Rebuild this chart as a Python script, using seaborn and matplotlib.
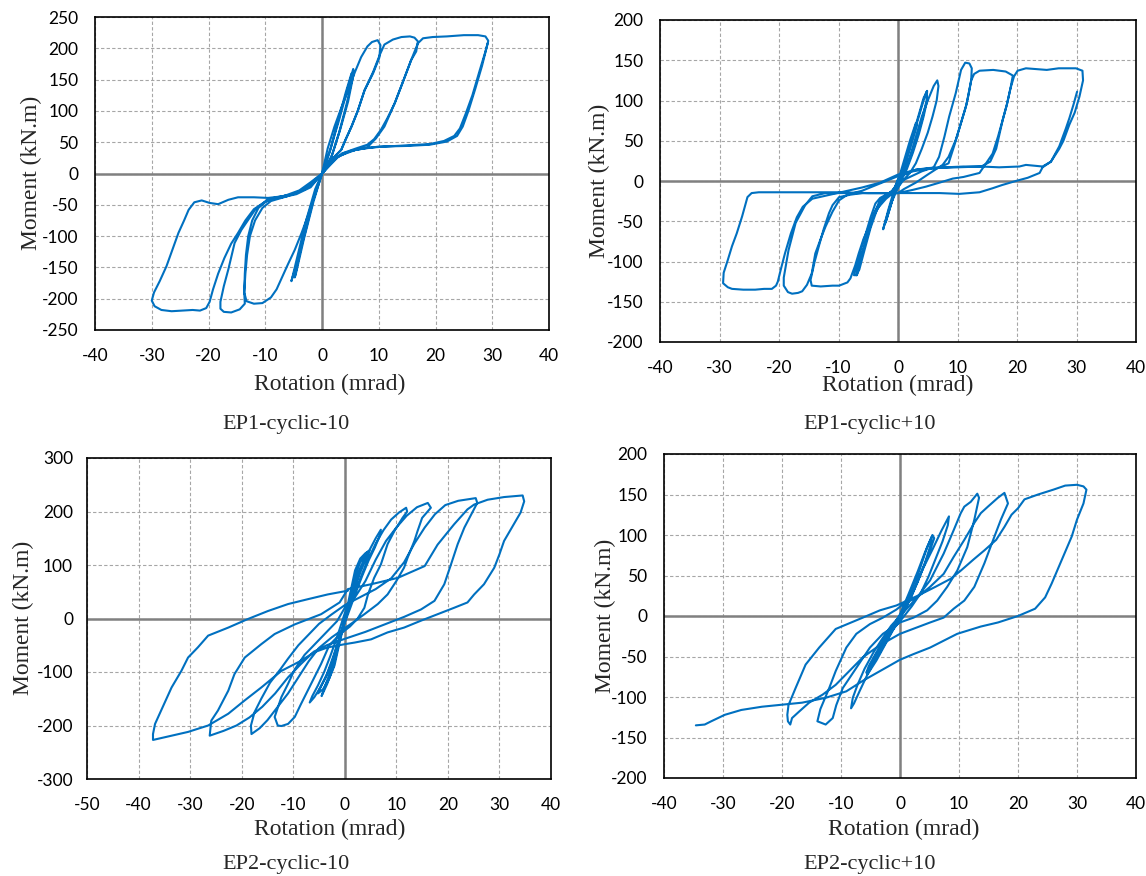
import matplotlib
matplotlib.use("Agg")
import matplotlib.pyplot as plt
import seaborn as sns
import pandas as pd
import numpy as np

sns.set_theme(style="white")
plt.rcParams["font.family"] = ["Lato", "DejaVu Sans"]
plt.rcParams["axes.unicode_minus"] = False

BLUE = "#0070C0"
W, H = 1146, 876

# (rotation mrad, moment kN.m), in loading order
ep1_minus = [
    (0, 0), (1.5, 40), (3, 85), (4.5, 135), (5.5, 167), (5.6, 160), (4.6, 115), (3.2, 70), (1.8, 30), (0, 0),
    (-1.5, -40), (-3, -95), (-4.3, -140), (-5.4, -172), (-5.2, -165), (-4, -120), (-2.8, -75), (-1.2, -25), (0, 0),
    (1.4, 35), (3, 90), (4.2, 130), (5.2, 160), (5.3, 150), (4.3, 110), (3, 65), (1.5, 22), (0, 0),
    (-1.5, -45), (-3.2, -105), (-4.6, -160), (-4.8, -166), (-4.2, -140), (-3, -90), (-1.5, -40), (0, 0),
    (1, 40), (2.2, 75), (3.4, 105), (4.6, 133), (5.8, 162), (6.9, 186), (8, 203), (8.8, 210), (9.8, 213),
    (10.3, 205), (10.1, 185), (9, 160), (7.5, 133), (6.3, 100), (5.2, 75), (4.2, 55), (3.4, 38), (2.2, 27), (1, 12), (0, 0),
    (-2, -22), (-4.5, -33), (-7, -38), (-9.5, -42), (-11.2, -55), (-12.3, -75), (-13, -100), (-13.4, -130),
    (-13.6, -160), (-13.7, -190), (-13.3, -204), (-12, -208), (-10.5, -207), (-9, -198), (-8, -185), (-7.2, -169),
    (-6, -145), (-4.8, -122), (-3.6, -95), (-2.5, -68), (-1.2, -33), (0, 0),
    (2, 24), (3.4, 38), (4.2, 55), (5.2, 75), (6.3, 100), (7.5, 133), (9, 162), (10.2, 190), (11, 206), (12.5, 214),
    (14, 218), (15.5, 219), (16.3, 217), (16.9, 211), (16.6, 195), (15.7, 181), (14.2, 145), (12.8, 112), (11.5, 88),
    (10.4, 70), (9.2, 55), (8, 46), (6, 40), (3.5, 32), (1.5, 16), (0, 0),
    (-2, -20), (-5, -33), (-8, -38), (-9.5, -41), (-11.8, -58), (-14.2, -90), (-15.4, -111), (-16.5, -153),
    (-17.3, -180), (-17.9, -205), (-17.9, -216), (-17.3, -221), (-16, -222), (-14.5, -217), (-13.6, -208),
    (-13.7, -190), (-13.5, -160), (-13.2, -130), (-12.7, -100), (-11.8, -75), (-10.5, -55), (-9, -44), (-6, -36),
    (-3, -25), (0, 0),
    (2, 22), (4, 33), (6, 38), (8, 42), (9.5, 56), (11, 75), (12.8, 112), (14.2, 145), (15.7, 181), (16.9, 208),
    (17.8, 216), (19.5, 218), (22, 219), (25, 221), (27.5, 221), (28.8, 219), (29.3, 212), (28.8, 195), (27.8, 165),
    (26.5, 125), (25.3, 95), (24.3, 72), (23.3, 60), (21.5, 52), (19, 47), (15, 45), (11, 43), (8, 41), (5, 36),
    (2.5, 25), (0, 0),
    (-2.5, -22), (-5, -33), (-7.5, -37), (-9.5, -39), (-12, -38), (-14.8, -38), (-16.5, -42), (-18.3, -49),
    (-19.8, -47), (-21.2, -43), (-22.5, -46), (-23.5, -58), (-24.3, -75), (-25.3, -95), (-26.3, -120), (-27.4, -148),
    (-28.6, -172), (-29.6, -190), (-30, -203), (-29.5, -212), (-28.3, -218), (-26.5, -220), (-24.7, -219),
    (-22.8, -218), (-21.5, -219), (-20.4, -215), (-19.8, -205), (-19.2, -185), (-18.3, -160), (-17.2, -135),
    (-16, -112), (-14.8, -95), (-13.5, -75), (-12, -57), (-10, -45), (-7, -37), (-4, -27), (-2, -14), (0, 0),
    (3, 28), (6, 38), (10, 43), (15, 44), (19, 46), (22, 51), (23.8, 60), (24.8, 75), (25.8, 100), (27, 135),
    (28.2, 172), (29.2, 208),
]

ep1_plus = [
    (0, 0), (1, 25), (2, 50), (3, 72), (3.2, 70), (2.4, 50), (1.6, 30), (0.8, 12), (0, 2),
    (-0.8, -15), (-1.6, -35), (-2.5, -60), (-2.3, -55), (-1.5, -35), (-0.7, -18), (0, -5),
    (0.5, 5), (1.5, 30), (2.5, 55), (3.5, 80), (4.3, 100), (4.8, 111), (4.9, 100), (4.3, 80), (3.5, 58), (2.5, 35),
    (1.5, 15), (0.5, 0), (-1, -25), (-2.1, -52), (-1.8, -45), (-0.8, -20), (0, -2),
    (1, 20), (2.2, 50), (3.4, 80), (4.3, 103), (4.9, 112), (4.8, 100), (4, 75), (3, 50), (2, 28), (1, 10), (0, -3),
    (-1, -13), (-2, -17), (-3, -21), (-3.8, -28), (-4.6, -45), (-5.4, -65), (-6.2, -85), (-6.9, -105), (-7.4, -117),
    (-6.9, -117), (-6.2, -95), (-5.2, -70), (-4.2, -45), (-3.2, -28), (-2, -18), (-1, -12),
    (0, -3), (1, 10), (2, 30), (3, 55), (4, 80), (5, 100), (6, 118), (6.6, 125), (6.8, 118), (6.5, 100), (5.8, 80),
    (5, 60), (4, 40), (3, 22), (2, 10), (1, 2), (0, -8), (-1, -14),
    (-2, -18), (-3, -24), (-4, -40), (-5, -65), (-6, -90), (-6.8, -112), (-7, -117), (-6.5, -110), (-5.6, -85),
    (-4.6, -58), (-3.5, -35), (-2.2, -20), (-1, -13),
    (0, -2), (2, 5), (4, 12), (6, 17), (6.9, 30), (7.8, 55), (8.6, 80), (9.7, 109), (10.6, 138), (11.3, 147),
    (12, 146), (12.4, 140), (12.3, 125), (11.8, 105), (11.4, 92), (10.5, 70), (9.7, 51), (8.5, 30), (7.5, 20),
    (5, 8), (3, -2), (1, -10), (0, -15),
    (-3, -15), (-6, -15), (-8, -17), (-9.9, -20), (-11, -30), (-11.6, -40), (-12.5, -60), (-13.3, -81), (-14, -100),
    (-14.7, -123), (-14.5, -130), (-13, -131), (-11, -130), (-9.9, -130), (-8.5, -126), (-8, -121), (-7.2, -105),
    (-6.6, -90), (-5.8, -72), (-4.9, -57), (-4, -42), (-3.2, -32), (-2, -22), (-1, -16),
    (0, 2), (1.5, 10), (3, 14), (5, 16), (7, 17), (8.5, 22), (9.5, 45), (10.5, 70), (11.5, 95), (12.3, 125),
    (12.8, 133), (13.7, 137), (16, 138), (18.1, 136), (19.3, 131), (18.9, 115), (18.3, 95), (17.6, 76), (16.8, 55),
    (15.9, 34), (14.8, 22), (13.7, 10), (11, 5), (9.2, 3), (7, -2), (4.7, -7), (2.5, -11), (0, -15),
    (-3, -15), (-6, -15), (-9, -15), (-12.2, -15), (-14.4, -19), (-15.6, -30), (-17.2, -52), (-18.4, -86),
    (-19.2, -120), (-19.2, -130), (-18.5, -138), (-17.8, -140), (-16.8, -139), (-16.1, -137), (-15.3, -129),
    (-14.5, -115), (-13.9, -90), (-13, -72), (-12.2, -57), (-11, -38), (-9.9, -24), (-8.5, -17), (-6, -12),
    (-4, -6), (-2, 0), (0, 6), (2.5, 12), (5, 15), (8, 17), (11, 18), (14, 18), (15.5, 24), (16.5, 40), (17.6, 76),
    (18.3, 95), (18.9, 115), (19.5, 130), (20.1, 137), (21.5, 140), (23.2, 139), (25, 138), (27, 140), (29.9, 140),
    (31, 137), (31.1, 125), (30.5, 105), (29.7, 85), (28.8, 70), (27.8, 50), (27.1, 40), (25.7, 24), (24.3, 17),
    (23.8, 10), (21.8, 4), (19.8, 0), (17.5, -5), (15.9, -9), (13.7, -14), (10.3, -16), (7, -15), (4.7, -15),
    (1, -15),
    (-5, -15), (-10, -14), (-15, -14), (-20, -14), (-23.4, -14), (-24.6, -15), (-25.3, -20), (-26.2, -44),
    (-27.1, -65), (-27.9, -81), (-28.6, -98), (-29.3, -114), (-29.4, -127), (-28.6, -132), (-27.9, -134),
    (-26, -135), (-24, -135), (-22.5, -134), (-21.2, -134), (-20.5, -130), (-20.2, -125), (-19.7, -110),
    (-19, -90), (-18, -65), (-17, -45), (-16, -32), (-14.4, -22), (-12, -18), (-9, -13),
    (-6, -8), (-3, -2), (0, 8), (3, 14), (6, 16), (10, 17), (14, 18), (17, 17), (20.4, 18), (21.5, 20), (23, 19),
    (24.3, 18), (25.7, 24), (27.1, 43), (28.2, 65), (28.8, 78), (29.5, 95), (30.1, 111),
]

ep2_minus = [
    (0, 0), (1, 45), (2, 90), (3, 112), (4, 122), (4.8, 127), (4.5, 118), (3.5, 98), (2.4, 72), (1.2, 35), (0, -5),
    (-1, -45), (-2, -88), (-3, -112), (-4.2, -132), (-5.2, -140), (-4.9, -132), (-3.8, -112), (-2.6, -85),
    (-1.3, -45), (0, -5),
    (1, 35), (2, 80), (3, 105), (4.2, 122), (4.5, 125), (4.1, 115), (3, 90), (1.8, 55), (0.5, 10),
    (-1, -40), (-2.2, -90), (-3.4, -122), (-4.5, -145), (-4.2, -136), (-3.2, -110), (-2, -75), (-0.8, -30), (0.2, 5),
    (1.2, 40), (2.4, 80), (3.5, 105), (4.8, 128), (6, 150), (7, 166), (6.8, 155), (5.8, 132), (4.6, 108),
    (3.4, 80), (2.2, 50), (1, 18), (0, -8),
    (-1, -35), (-2.2, -70), (-3.5, -105), (-4.8, -130), (-5.9, -147), (-6.8, -157), (-6.3, -145), (-5.2, -125),
    (-4, -100), (-2.8, -70), (-1.5, -35), (-0.5, -5),
    (0, 10), (1.5, 40), (3, 75), (4.5, 110), (6, 140), (7.5, 165), (9, 185), (10.5, 198), (11.9, 207), (12.1, 200),
    (11.2, 188), (9.6, 163), (8.3, 139), (7, 101), (5.7, 76), (4.5, 45), (3.8, 20), (2.5, 0), (1, -15), (-1, -30),
    (-3, -50), (-4.6, -85), (-5.9, -110), (-7.2, -135), (-8.5, -160), (-9.7, -184), (-11, -197), (-12.3, -201),
    (-13, -200), (-13.6, -184), (-12.3, -147), (-11, -122), (-9.7, -95), (-7.8, -68), (-5.5, -45), (-3.5, -25),
    (-1.5, -5), (0, 20),
    (2, 40), (4, 70), (6, 110), (8, 145), (10, 170), (12, 192), (14, 208), (16.1, 216), (16.7, 207), (15, 188),
    (14.1, 163), (13.5, 145), (12.2, 114), (11.5, 95), (10, 70), (8.3, 45), (6.4, 27), (3.8, 8), (1.5, -8),
    (0, -18), (-2.5, -35), (-5, -55), (-7, -80), (-9, -110), (-11, -140), (-13, -165), (-15, -190), (-16.5, -205),
    (-17.5, -212), (-18.1, -216), (-18.2, -200), (-17.5, -175), (-16.2, -150), (-14.5, -120), (-12.5, -95),
    (-11, -75), (-9, -50), (-7, -30), (-5, -10), (-2.5, 8), (0, 25),
    (3, 40), (6, 55), (9, 75), (11.5, 105), (13.5, 140), (15.5, 170), (17.5, 195), (19.5, 212), (22, 220),
    (25.4, 225), (25.7, 216), (24.5, 194), (23.2, 170), (21.9, 139), (20.6, 101), (19.3, 64), (17.4, 33),
    (14.8, 17), (11.5, 3), (8, -10), (4, -25), (0, -38), (-3.5, -50), (-6, -62), (-8.5, -85), (-11, -110),
    (-13.5, -140), (-16, -165), (-18.5, -185), (-21, -200), (-23.5, -210), (-26.2, -219), (-25.9, -191),
    (-24.6, -172), (-22.6, -135), (-21.4, -104), (-19.4, -73), (-16.2, -48), (-13.6, -29), (-9.7, -11),
    (-4.6, 8), (-1, 30), (0.6, 55),
    (5.1, 64), (10.3, 76), (15.5, 98), (18, 138), (21.2, 176), (23.8, 204), (25.1, 213), (27.7, 222), (30.9, 227),
    (34.5, 230), (34.8, 219), (34.1, 198), (33.5, 188), (32.3, 168), (30.9, 145), (30, 120), (29, 95), (27, 64),
    (25.1, 45), (23.8, 30), (21.2, 20), (18, 8), (14.8, -4), (11.5, -17), (8.3, -26), (5.1, -39), (1.9, -45),
    (0, -48), (-3.3, -54), (-5.9, -63), (-8.5, -79), (-12.3, -98), (-16.2, -129), (-19.4, -153), (-22.6, -178),
    (-26.5, -200), (-30.4, -212), (-34.9, -222), (-37.2, -227), (-37.2, -216), (-36.8, -197), (-35.9, -178),
    (-33.6, -129), (-31.7, -98), (-30.4, -73), (-28.5, -54), (-26.5, -32), (-22.6, -17), (-18.8, -1),
    (-14.9, 14), (-11, 27), (-7.2, 36), (-3.3, 45), (0.6, 52),
]

ep2_plus = [
    (0, 0), (1.5, 25), (3, 50), (4.6, 85), (5.4, 98), (5.2, 88), (4.2, 65), (3, 42), (1.5, 18), (0, -2),
    (-1.5, -20), (-3, -40), (-4.5, -58), (-5.7, -70), (-5.3, -62), (-4, -45), (-2.6, -28), (-1.2, -12), (0, 2),
    (1.5, 28), (3, 55), (4.2, 78), (5.5, 100), (5.8, 96), (4.8, 75), (3.5, 52), (2, 25), (0.5, 3),
    (-1, -15), (-2.5, -35), (-4, -55), (-5.5, -72), (-5, -60), (-3.5, -40), (-2, -22), (-0.5, -5),
    (1, 12), (2.5, 35), (4, 60), (5.5, 82), (7, 105), (8, 119), (8.3, 123), (8.1, 112), (7.2, 92), (6, 70),
    (4.8, 48), (3.5, 28), (2, 12), (0.5, -2), (-1, -15), (-2.5, -30), (-4, -50), (-5.5, -72), (-6.8, -92),
    (-7.8, -108), (-8.3, -114), (-8, -101), (-7.2, -85), (-6, -65), (-4.5, -45), (-3, -28), (-1.5, -12), (0, 0),
    (1.5, 12), (2.9, 23), (5.1, 44), (7.4, 77), (9.1, 106), (10.3, 127), (10.9, 135), (12, 141), (13.1, 151),
    (13.4, 146), (12.6, 119), (11.4, 85), (9.7, 56), (8, 36), (6.3, 19), (4.6, 7), (2.3, -2), (0, -8),
    (-2.9, -22), (-5.1, -39), (-7.4, -64), (-9.7, -89), (-10.8, -110), (-11.4, -126), (-12.6, -134), (-14, -130),
    (-13.5, -115), (-12, -89), (-10.9, -68), (-9.1, -39), (-7.4, -22), (-5.1, -10), (-2.9, -2), (-0.6, 8),
    (0.6, 15), (2.9, 23), (5.1, 36), (7.4, 52), (9.1, 73), (10.9, 94), (12.6, 115), (13.7, 127), (14.9, 135),
    (16.6, 146), (17.7, 152), (18.3, 139), (17.1, 119), (16, 98), (14.3, 65), (12.6, 36), (10.9, 19), (9.1, 9),
    (7.4, -2), (5.1, -8), (2.9, -14), (0, -22), (-1.7, -29), (-4, -39), (-6.3, -51), (-8.6, -68), (-10.9, -85),
    (-13.1, -97), (-15.4, -107), (-17.1, -118), (-18.3, -126), (-18.6, -134), (-19, -130), (-19.1, -122),
    (-18.9, -110), (-17.7, -89), (-16, -60), (-13.7, -39), (-10.9, -16), (-6.3, -2), (-3.4, 7), (-0.6, 13),
    (3, 25), (6, 36), (8.6, 46), (10.3, 56), (12.5, 70), (14.3, 81), (16.3, 94), (17.7, 110), (18.9, 125),
    (20, 133), (21.1, 144), (23.4, 150), (26, 156), (28, 161), (30, 162), (31.1, 160), (31.6, 156), (31.1, 139),
    (30, 119), (29.1, 98), (27.4, 69), (25.7, 40), (24.6, 23), (22.9, 9), (20, 0), (16.6, -8), (13.7, -13),
    (9.7, -22), (5.1, -39), (2.3, -47), (0, -54), (-3.4, -68), (-6.3, -80), (-9.1, -93), (-12.6, -101),
    (-16.6, -107), (-23.4, -112), (-26.9, -116), (-29.7, -122), (-32, -130), (-33.1, -134), (-34.6, -135),
]

captions = ["EP1-cyclic-10", "EP1-cyclic+10", "EP2-cyclic-10", "EP2-cyclic+10"]

# pixel layout: axes box (left, top, right, bottom), label anchors, y tick pad
panels = [
    dict(pts=ep1_minus, box=(95, 17, 549, 330), xr=(-40, 40, 10), yr=(-250, 250, 50),
         ylab=(31, 173), xlab=(330, 384), cap=(286, 425), ypad=12),
    dict(pts=ep1_plus, box=(660, 20, 1136, 342), xr=(-40, 40, 10), yr=(-200, 200, 50),
         ylab=(599, 181), xlab=(898, 385), cap=(870, 425), ypad=12),
    dict(pts=ep2_minus, box=(87, 458, 551, 779), xr=(-50, 40, 10), yr=(-300, 300, 100),
         ylab=(23, 618), xlab=(330, 829), cap=(286, 864), ypad=10),
    dict(pts=ep2_plus, box=(664, 454, 1136, 778), xr=(-40, 40, 10), yr=(-200, 200, 50),
         ylab=(605, 616), xlab=(904, 829), cap=(870, 864), ypad=12),
]

fig = plt.figure(figsize=(W / 100, H / 100), dpi=100)
fig.patch.set_facecolor("white")

serif = ["Liberation Serif", "DejaVu Serif"]

for p, cap in zip(panels, captions):
    l, t, r, b = p["box"]
    ax = fig.add_axes([l / W, 1 - b / H, (r - l) / W, (b - t) / H])
    df = pd.DataFrame(p["pts"], columns=["rot", "mom"])
    sns.lineplot(data=df, x="rot", y="mom", sort=False, estimator=None,
                 color=BLUE, lw=1.5, ax=ax, zorder=3)
    x0, x1, xs = p["xr"]
    y0, y1, ys = p["yr"]
    ax.set_xlim(x0, x1)
    ax.set_ylim(y0, y1)
    ax.set_xticks(np.arange(x0, x1 + 1, xs))
    ax.set_yticks(np.arange(y0, y1 + 1, ys))
    ax.grid(True, ls=(0, (3, 2)), color="#a6a6a6", lw=0.8, zorder=0)
    ax.axhline(0, color="#808080", lw=1.8, zorder=2)
    ax.axvline(0, color="#808080", lw=1.8, zorder=2)
    ax.tick_params(length=0, labelsize=12.5, labelcolor="black")
    ax.tick_params(axis="y", pad=p["ypad"])
    ax.tick_params(axis="x", pad=13)
    ax.set_xlabel("")
    ax.set_ylabel("")
    for s in ax.spines.values():
        s.set_color("black")
        s.set_linewidth(1.2)

    fig.text(p["ylab"][0] / W, 1 - p["ylab"][1] / H, "Moment (kN.m)", rotation=90,
             ha="center", va="center", fontsize=17, family=serif)
    fig.text(p["xlab"][0] / W, 1 - p["xlab"][1] / H, "Rotation (mrad)",
             ha="center", va="center", fontsize=17, family=serif)
    fig.text(p["cap"][0] / W, 1 - p["cap"][1] / H, cap,
             ha="center", va="center", fontsize=16, family=serif)

fig.savefig("out.png", dpi=100, facecolor="white")
